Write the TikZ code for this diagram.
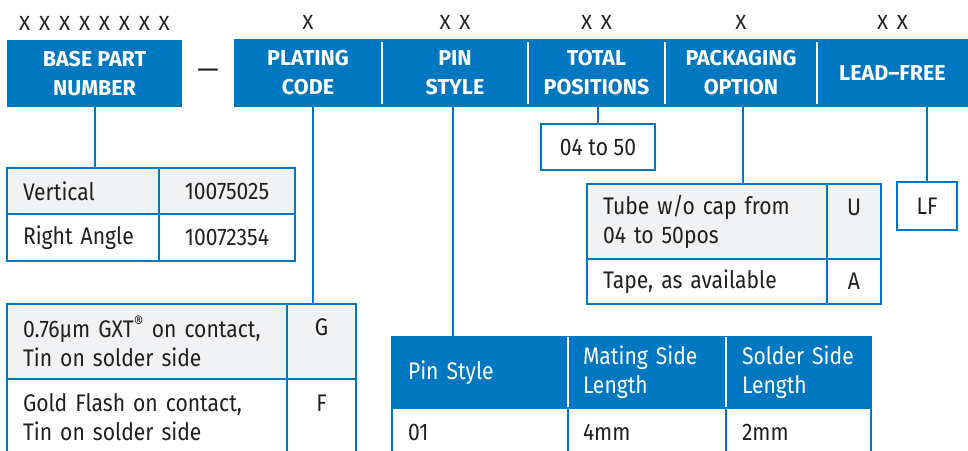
\documentclass[tikz,border=0pt]{standalone}
\usepackage{fontspec}
\setmainfont{Fira Sans}
\newfontfamily\narrowfont[FakeStretch=0.88]{Fira Sans}
\usetikzlibrary{positioning}
\definecolor{pnblue}{HTML}{0077C1}
\definecolor{pngray}{HTML}{F1F2F3}
\definecolor{pnink}{HTML}{231F20}

\begin{document}
\begin{tikzpicture}[x=1pt,y=-1pt,
    hdr/.style={fill=pnblue,text=white,font=\bfseries\fontsize{21.5}{29}\selectfont,
      align=center,inner sep=0pt,outer sep=0pt,minimum height=68pt,anchor=north west},
    xmark/.style={text=pnink,font=\fontsize{20.5}{24}\selectfont,inner sep=0pt},
    cell/.style={draw=pnblue,line width=2pt,text=pnink,font=\narrowfont\fontsize{24}{29}\selectfont,
      inner xsep=16pt,inner ysep=0pt,outer sep=0pt,anchor=north west,align=left},
    mid/.style={align=center,inner xsep=0pt},
    shade/.style={fill=pngray},
    headcell/.style={cell,fill=pnblue,text=white},
    link/.style={draw=pnblue,line width=2pt}]
  \useasboundingbox (0,0) rectangle (968,450);
  \clip (0,0) rectangle (968,450);

  % part number fields
  \node[hdr,minimum width=175pt,minimum height=67pt] (base) at (7,40) {BASE PART\\NUMBER};
  \node[text=pnink,font=\fontsize{27}{27}\selectfont] (dash) at (208,74) {—};
  \node[hdr,minimum width=148pt] (plating) at (234,39) {PLATING\\CODE};
  \node[hdr,minimum width=146pt] (pin) at (plating.north east) {PIN\\STYLE};
  \node[hdr,minimum width=137pt] (total) at (pin.north east) {TOTAL\\POSITIONS};
  \node[hdr,minimum width=152pt] (pack) at (total.north east) {PACKAGING\\OPTION};
  \node[hdr,minimum width=151pt] (lead) at (pack.north east) {LEAD--FREE};
  \foreach \f in {plating,pin,total,pack}
    \draw[white,line width=2pt] ([yshift=-3pt]\f.north east) -- ([yshift=3pt]\f.south east);

  % digit placeholders
  \node[xmark,above=9pt of base] (xbase) {X \,X \,X \,X \,X \,X \,X \,X};
  \node[xmark,above=9pt of plating] (xplating) {X};
  \node[xmark,above=9pt of pin] (xpin) {X \,X};
  \node[xmark,above=9pt of total] (xtotal) {X \,X};
  \node[xmark,above=9pt of pack] (xpack) {X};
  \node[xmark,above=9pt of lead] (xlead) {X \,X};

  % base part number table
  \node[cell,shade,text width=120pt,minimum height=46pt] (vert) at (7,168) {Vertical};
  \node[cell,shade,mid,minimum width=136pt,minimum height=46pt] (vertno) at (vert.north east) {10075025};
  \node[cell,text width=120pt,minimum height=47pt] (right) at (vert.south west) {Right Angle};
  \node[cell,mid,minimum width=136pt,minimum height=47pt] (rightno) at (right.north east) {10072354};

  % plating table
  \node[cell,shade,text width=248pt,minimum height=75pt] (gxt) at (7,304)
    {0.76µm GXT\textsuperscript{®} on contact,\\Tin on solder side};
  \node[cell,shade,mid,minimum width=69pt,minimum height=75pt] (gxtcode) at (gxt.north east) {G\\\mbox{}};
  \node[cell,text width=248pt,minimum height=77pt] (flash) at (gxt.south west)
    {Gold Flash on contact,\\Tin on solder side};
  \node[cell,mid,minimum width=69pt,minimum height=77pt] (flashcode) at (flash.north east) {F\\\mbox{}};

  % pin style table
  \node[headcell,text width=144pt,minimum height=71pt] (pinhead) at (392,337) {Pin Style};
  \node[headcell,inner xsep=15pt,text width=128pt,minimum height=71pt] (matehead) at (pinhead.north east) {Mating Side\\Length};
  \node[headcell,text width=113pt,minimum height=71pt] (solderhead) at (matehead.north east) {Solder Side\\Length};
  \foreach \f in {pinhead,matehead}
    \draw[white,line width=2pt] (\f.north east) -- (\f.south east);
  \node[cell,text width=144pt,minimum height=48pt] (pinrow) at (pinhead.south west) {01};
  \node[cell,inner xsep=15pt,text width=128pt,minimum height=48pt] (materow) at (pinrow.north east) {4mm};
  \node[cell,text width=113pt,minimum height=48pt] (solderrow) at (materow.north east) {2mm};

  % positions, packaging, lead-free
  \node[cell,mid,minimum width=114pt,minimum height=46pt] (range) at (541,124) {04 to 50};
  \node[cell,shade,text width=208pt,minimum height=75pt] (tube) at (587,184)
    {Tube w/o cap from\\04 to 50pos};
  \node[cell,shade,mid,minimum width=54pt,minimum height=75pt] (tubecode) at (tube.north east) {U\\\mbox{}};
  \node[cell,text width=208pt,minimum height=45pt] (tape) at (tube.south west) {Tape, as available};
  \node[cell,mid,minimum width=54pt,minimum height=45pt] (tapecode) at (tape.north east) {A};
  \node[cell,mid,minimum width=60pt,minimum height=48pt] (lf) at (897,182) {LF};

  % connectors
  \draw[link] (base.south) -- (base.south |- vert.north);
  \draw[link] ([xshift=5pt]plating.south) -- ([xshift=5pt]plating.south |- gxt.north);
  \draw[link] ([xshift=-2pt]pin.south) -- ([xshift=-2pt]pin.south |- pinhead.north);
  \draw[link] (range.north |- total.south) -- (range.north);
  \draw[link] ([xshift=2pt]pack.south) -- ([xshift=2pt]pack.south |- tube.north);
  \draw[link] (lf.north |- lead.south) -- (lf.north);
\end{tikzpicture}
\end{document}
